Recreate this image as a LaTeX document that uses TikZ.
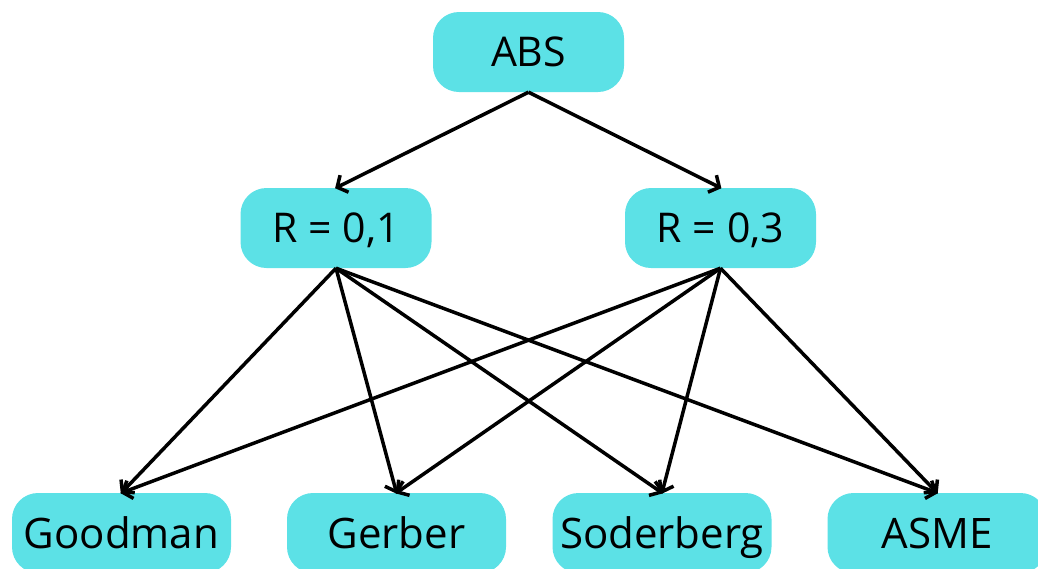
\documentclass[tikz,border=0pt]{standalone}
\usepackage{fontspec}
\setmainfont{Open Sans}
\usetikzlibrary{arrows.meta}
\definecolor{boxcyan}{HTML}{5CE1E6}
\tikzset{
  box/.style={fill=boxcyan, rounded corners=26pt, inner sep=0pt, anchor=center, text depth=0pt},
  topbox/.style={box, minimum width=191pt, minimum height=80pt, text height=29.3pt, font=\fontsize{41}{44}\selectfont},
  botbox/.style={box, minimum width=219pt, minimum height=80pt, text height=30pt, font=\fontsize{42}{45}\selectfont},
  link/.style={line width=3.5pt, -{Straight Barb[length=8pt,width=19pt,line width=3.5pt]}, shorten >=-1pt}
}
\begin{document}
\begin{tikzpicture}[x=1pt,y=-1pt]
\useasboundingbox (0,0) rectangle (1038,568);
\clip (0,0) rectangle (1038,568);
\node[topbox] (abs) at (528.5,52) {ABS};
\node[topbox] (r1) at (336,228) {R = 0,1};
\node[topbox] (r3) at (720.5,228) {R = 0,3};
\node[botbox] (good) at (121.5,533) {Goodman};
\node[botbox] (gerb) at (396.5,533) {Gerber};
\node[botbox] (sod) at (662,533) {Soderberg};
\node[botbox] (asme) at (937,533) {ASME};
\draw[link] (abs.south) -- (r1.north);
\draw[link] (abs.south) -- (r3.north);
\foreach \s in {r1,r3}{
  \foreach \t in {good,gerb,sod,asme}{
    \draw[link] (\s.south) -- (\t.north);
  }
}
\end{tikzpicture}
\end{document}
